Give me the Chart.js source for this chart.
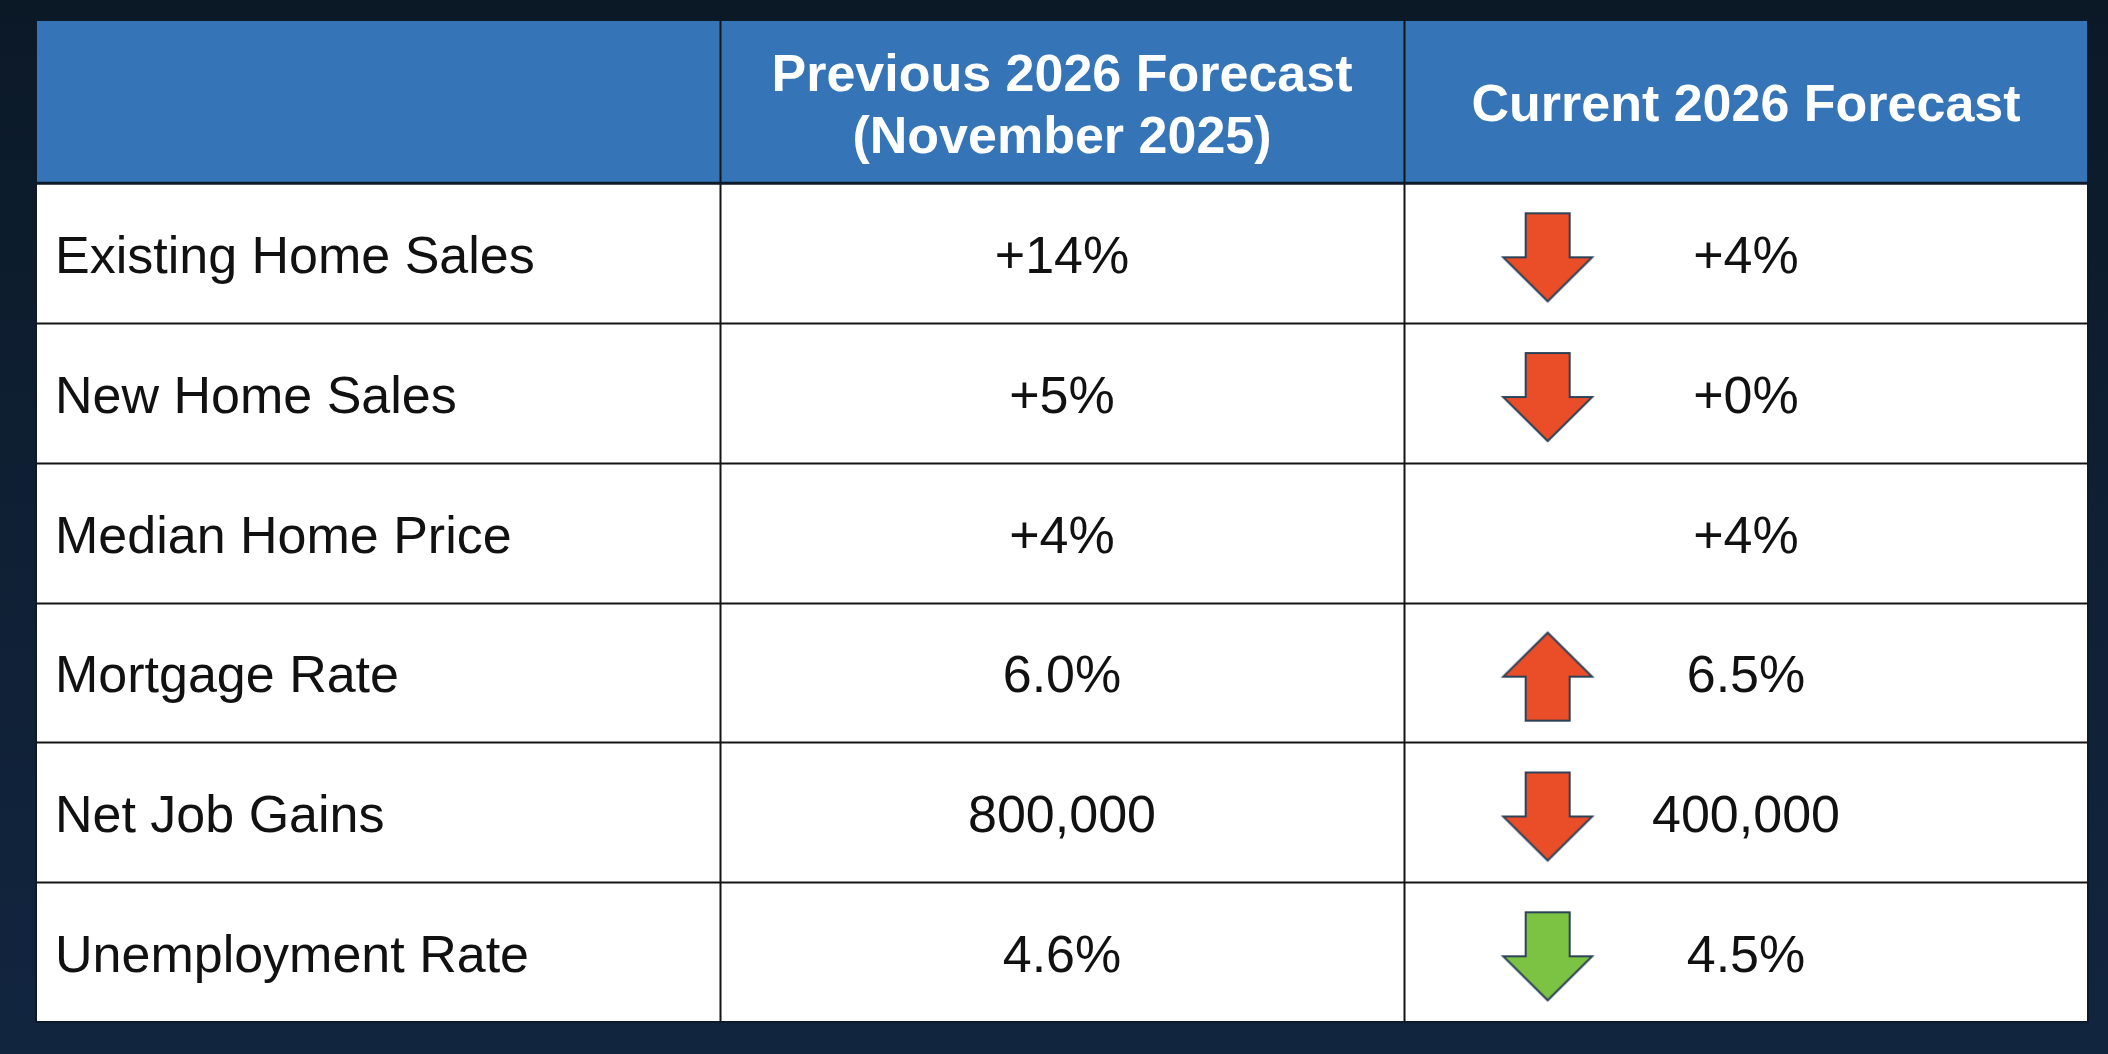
<!DOCTYPE html>
<html>
<head>
<meta charset="utf-8">
<script src="https://cdn.jsdelivr.net/npm/chart.js@4.4.1/dist/chart.umd.min.js"></script>
<style>
  html, body { margin: 0; padding: 0; }
  body { width: 2108px; height: 1054px; overflow: hidden;
         background: linear-gradient(180deg, #0b1927 0%, #0f2034 50%, #12253f 100%); }
  #wrap { width: 2108px; height: 1054px; position: relative; }
</style>
</head>
<body>
<div id="wrap"><canvas id="tabla"></canvas></div>
<script>
// table contents
const metrics = ['Existing Home Sales', 'New Home Sales', 'Median Home Price',
                 'Mortgage Rate', 'Net Job Gains', 'Unemployment Rate'];
const headerPrevious = ['Previous 2026 Forecast', '(November 2025)'];
const headerCurrent = ['Current 2026 Forecast'];
const previousForecast = ['+14%', '+5%', '+4%', '6.0%', '800,000', '4.6%'];
const currentForecast = ['+4%', '+0%', '+4%', '6.5%', '400,000', '4.5%'];
const direction = ['down', 'down', 'none', 'up', 'down', 'down'];
const outlook = ['worse', 'worse', 'same', 'worse', 'worse', 'better'];

// layout (in scale units)
const HEADER_H = 1.167;   // header row height relative to a body row
const ARROW_X = 2.21;     // arrow position inside the current column
const ARROW_DY = 0.03;

const FONT = "'Liberation Sans', Arial, Helvetica, sans-serif";
const colores = { worse: '#e94e28', better: '#7cc243' };

function hacerFlecha(dir, color) {
  const c = document.createElement('canvas');
  c.width = 96; c.height = 96;
  const g = c.getContext('2d');
  g.translate(48, 48);
  if (dir === 'up') g.rotate(Math.PI);
  g.beginPath();
  g.moveTo(-22, -44);
  g.lineTo(22, -44);
  g.lineTo(22, 0);
  g.lineTo(44.5, 0);
  g.lineTo(0, 44);
  g.lineTo(-44.5, 0);
  g.lineTo(-22, 0);
  g.closePath();
  g.fillStyle = color;
  g.fill();
  g.lineWidth = 2;
  g.strokeStyle = '#2c4258';
  g.stroke();
  return c;
}

const puntos = [];
const estilos = [];
direction.forEach(function(d, i) {
  if (d === 'none') return;
  puntos.push({ x: ARROW_X, y: HEADER_H + i + 0.5 + ARROW_DY });
  estilos.push(hacerFlecha(d, colores[outlook[i]]));
});

const dibujarTabla = {
  id: 'dibujarTabla',
  beforeDatasetsDraw(chart) {
    const ctx = chart.ctx;
    const x = chart.scales.x, y = chart.scales.y;
    const left = x.getPixelForValue(0), right = x.getPixelForValue(3);
    const top = y.getPixelForValue(0), bottom = y.getPixelForValue(HEADER_H + metrics.length);
    const headBottom = y.getPixelForValue(HEADER_H);

    ctx.save();
    ctx.fillStyle = '#ffffff';
    ctx.fillRect(left, headBottom, right - left, bottom - headBottom);
    ctx.fillStyle = '#3474b7';
    ctx.fillRect(left, top, right - left, headBottom - top);

    // grid lines
    ctx.strokeStyle = '#141414';
    ctx.lineWidth = 2;
    for (let i = 1; i < metrics.length; i++) {
      const py = Math.round(y.getPixelForValue(HEADER_H + i)) + 0.5;
      ctx.beginPath(); ctx.moveTo(left, py); ctx.lineTo(right, py); ctx.stroke();
    }
    for (let c = 1; c < 3; c++) {
      const px = Math.round(x.getPixelForValue(c)) + 0.5;
      ctx.beginPath(); ctx.moveTo(px, top); ctx.lineTo(px, bottom); ctx.stroke();
    }
    ctx.strokeStyle = '#0d1a2a';
    ctx.lineWidth = 3;
    ctx.beginPath(); ctx.moveTo(left, headBottom); ctx.lineTo(right, headBottom); ctx.stroke();
    ctx.lineWidth = 2;
    ctx.strokeRect(left, top, right - left, bottom - top);

    // header text
    ctx.fillStyle = '#ffffff';
    ctx.font = 'bold 52px ' + FONT;
    ctx.textAlign = 'center';
    ctx.textBaseline = 'alphabetic';
    const hc = y.getPixelForValue(HEADER_H / 2);
    ctx.fillText(headerPrevious[0], x.getPixelForValue(1.5), hc - 11);
    ctx.fillText(headerPrevious[1], x.getPixelForValue(1.5), hc + 51);
    ctx.fillText(headerCurrent[0], x.getPixelForValue(2.5), hc + 19);

    // body text
    ctx.fillStyle = '#111111';
    ctx.font = '52px ' + FONT;
    metrics.forEach(function(m, i) {
      const base = y.getPixelForValue(HEADER_H + i + 0.5) + 20;
      ctx.textAlign = 'left';
      ctx.fillText(m, left + 19, base);
      ctx.textAlign = 'center';
      ctx.fillText(previousForecast[i], x.getPixelForValue(1.5), base);
      ctx.fillText(currentForecast[i], x.getPixelForValue(2.5), base);
    });
    ctx.restore();
  }
};

const chart = new Chart(document.getElementById('tabla').getContext('2d'), {
  type: 'scatter',
  data: {
    datasets: [{
      label: 'Cambio',
      data: puntos,
      pointStyle: function(c) { return estilos[c.dataIndex]; },
      pointRadius: 45,
      pointHoverRadius: 45,
      clip: false
    }]
  },
  options: {
    responsive: true,
    maintainAspectRatio: false,
    animation: false,
    layout: { autoPadding: false, padding: { left: 36, top: 20, right: 20, bottom: 32 } },
    plugins: { legend: { display: false }, tooltip: { enabled: false } },
    scales: {
      x: { type: 'linear', min: 0, max: 3, display: false },
      y: { type: 'linear', min: 0, max: HEADER_H + metrics.length, reverse: true, display: false }
    }
  },
  plugins: [dibujarTabla]
});
</script>
</body>
</html>
